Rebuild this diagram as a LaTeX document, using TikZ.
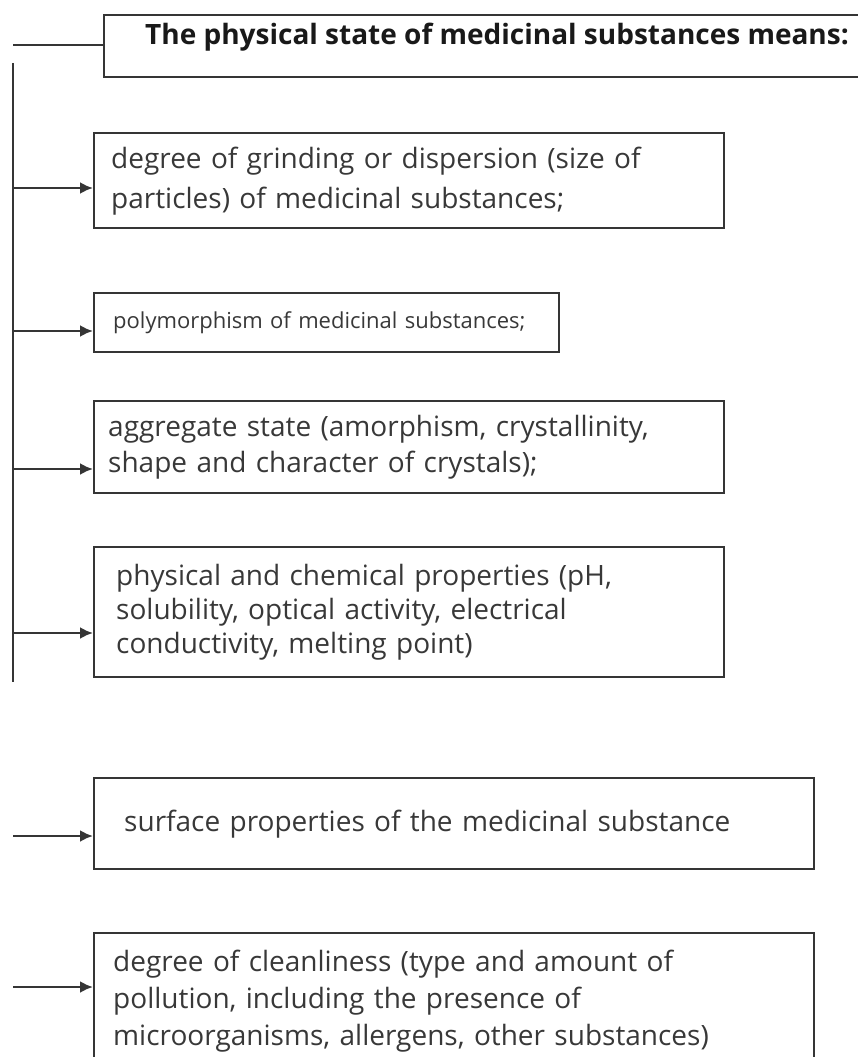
\documentclass[tikz,border=0pt]{standalone}
\usepackage{fontspec}
\setmainfont{Open Sans}
\usetikzlibrary{arrows.meta}
\definecolor{ink}{HTML}{353535}
\definecolor{txt}{HTML}{383838}
\tikzset{
  box/.style={draw=ink, line width=2.4pt, rectangle, anchor=north west,
    align=left, inner ysep=0pt, text=txt,
    font=\fontsize{28}{40}\selectfont},
  link/.style={draw=ink, line width=2.4pt},
  arr/.style={link, -{Latex[length=13pt,width=12pt]}},
}
\begin{document}
\begin{tikzpicture}[x=1pt,y=-1pt]
\clip (0,0) rectangle (858,1057);

% heading box (runs past the right edge)
\node[box, minimum width=800, minimum height=62, inner xsep=0pt] (title) at (103,14) {};
\node[anchor=base west, inner sep=0pt, text=black!90,
      font=\bfseries\fontsize{28}{32}\selectfont] (titletext) at (145,45)
  {The physical state of medicinal substances means:};

% item boxes
\node[box, minimum height=95, text width=596, inner xsep=17pt] (b1) at (93,132)
  {degree of grinding or dispersion (size of\\particles) of medicinal substances;};
\node[box, minimum height=59, text width=427, inner xsep=19pt,
      font=\fontsize{22}{28}\selectfont] (b2) at (93,292)
  {polymorphism of medicinal substances;};
\node[box, minimum height=92, text width=602, inner xsep=14pt,
      font=\fontsize{28}{36}\selectfont] (b3) at (93,400)
  {aggregate state (amorphism, crystallinity,\\shape and character of crystals);};
\node[box, minimum height=130, text width=586, inner xsep=22pt,
      font=\fontsize{28}{34}\selectfont] (b4) at (93,546)
  {physical and chemical properties (pH,\\solubility, optical activity, electrical\\conductivity, melting point)};
\node[box, minimum height=91, text width=660, inner xsep=30pt] (b5) at (93,777)
  {surface properties of the medicinal substance};
\node[box, minimum height=136, text width=682, inner xsep=19pt,
      font=\fontsize{28}{37}\selectfont] (b6) at (93,932)
  {degree of cleanliness (type and amount of\\pollution, including the presence of\\microorganisms, allergens, other substances)};

% trunk and branches
\coordinate (ttop) at (13,63);
\coordinate (tbot) at (13,682);
\draw[link] (ttop) -- (tbot);
\coordinate (j0) at (13,45);
\draw[link] (j0) -- (j0 -| title.west);
\coordinate (j1) at (13,188);
\coordinate (j2) at (13,331);
\coordinate (j3) at (13,469);
\coordinate (j4) at (13,633);
\coordinate (j5) at (13,836);
\coordinate (j6) at (13,987);
\draw[arr] (j1) -- (j1 -| b1.west);
\draw[arr] (j2) -- (j2 -| b2.west);
\draw[arr] (j3) -- (j3 -| b3.west);
\draw[arr] (j4) -- (j4 -| b4.west);
\draw[arr] (j5) -- (j5 -| b5.west);
\draw[arr] (j6) -- (j6 -| b6.west);
\end{tikzpicture}
\end{document}
